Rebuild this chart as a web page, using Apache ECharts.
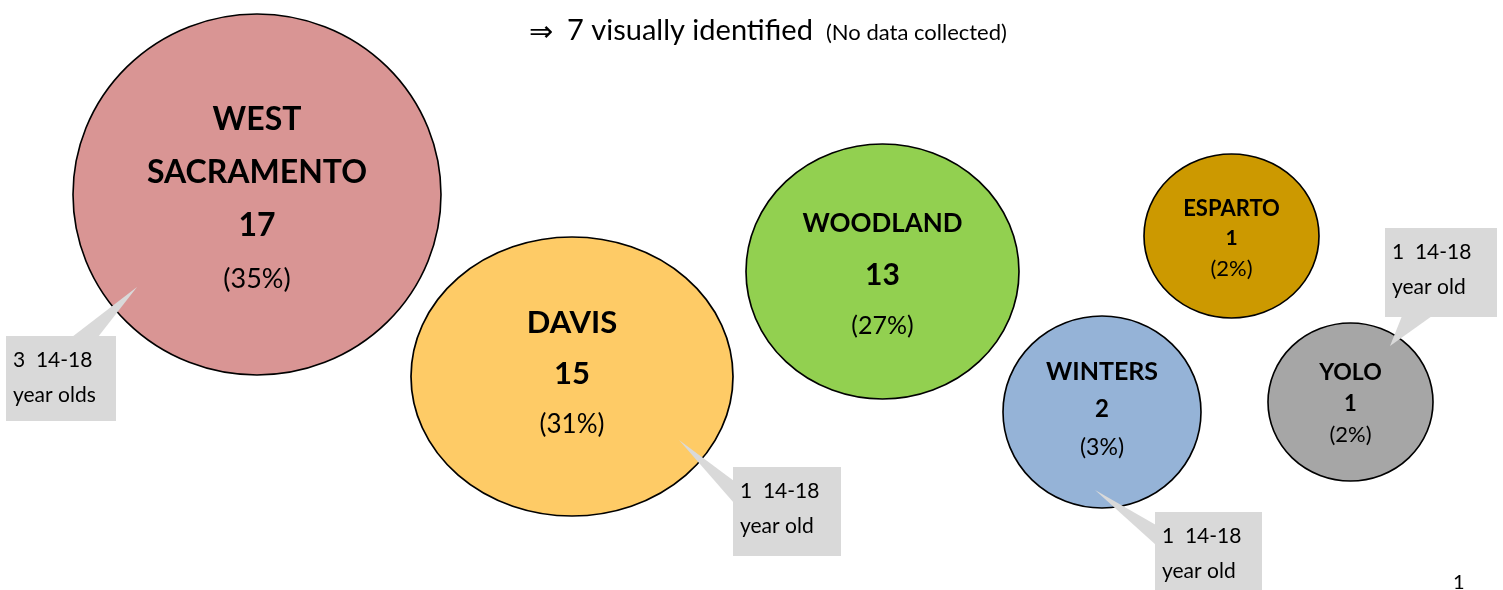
<!DOCTYPE html>
<html>
<head>
<meta charset="utf-8">
<script src="https://cdn.jsdelivr.net/npm/echarts@6/dist/echarts.min.js"></script>
<style>
html,body{margin:0;padding:0;background:#fff;}
#chart{width:1503px;height:590px;}
</style>
</head>
<body>
<div id="chart"></div>
<script>
// ---- data ----
const towns = ['WEST\nSACRAMENTO', 'DAVIS', 'WOODLAND', 'ESPARTO', 'WINTERS', 'YOLO'];
const counts = [17, 15, 13, 1, 2, 1];
const shares = [35, 31, 27, 2, 3, 2];
const calloutTowns = ['WEST\nSACRAMENTO', 'DAVIS', 'WINTERS', 'YOLO'];
const youthCounts = [3, 1, 1, 1];
const titleArrow = '⇒';
const titleMain = '7 visually identified';
const titleNote = '(No data collected)';
const pageNumber = '1';

// ---- layout (positions / sizes / styles) ----
const bubbleX = [257, 572, 882.5, 1231.5, 1102, 1350.5];
const bubbleY = [194.5, 376.5, 271.5, 236, 412, 402];
const bubbleW = [368, 322, 273, 175, 198, 165];
const bubbleH = [361, 279, 255, 164, 192, 158];
const bubbleColors = ['#D99594', '#FECB66', '#92D050', '#CC9900', '#95B3D7', '#A6A6A6'];
// font sizes: name, count, percent, lineHeight
const labelSizes = [
  [32, 32, 27, 53],
  [31, 31, 26, 51],
  [26, 30, 25, 51],
  [22, 21, 22, 30],
  [25, 24, 23, 38],
  [23, 22, 22, 31]
];
const labelShiftY = [5, -2.5, 3.5, 2.5, -2.5, 1.5];
// callout box: x, y, w, h ; pointer tip ; pointer base two points
const calloutBox = [
  [6, 336, 110, 85],
  [733, 467, 108, 89],
  [1155, 512, 107, 90],
  [1385, 228, 112, 89]
];
const calloutPointer = [
  [[137, 287], [72, 337], [98, 337]],
  [[679, 440], [734, 481], [734, 503]],
  [[1095, 490], [1156, 525], [1156, 545]],
  [[1390, 346], [1402, 316], [1432, 316]]
];

const FONT = 'Lato, "Noto Sans", sans-serif';

const bubbleData = towns.map((t, i) => {
  const s = labelSizes[i];
  const nameParts = t.split('\n').map(p => '{n|' + p + '}').join('\n');
  return {
    name: t,
    value: [bubbleX[i], bubbleY[i], counts[i], shares[i]],
    symbolSize: [bubbleW[i], bubbleH[i]],
    itemStyle: { color: bubbleColors[i] },
    label: {
      show: true,
      position: 'inside',
      offset: [0, labelShiftY[i]],
      align: 'center',
      verticalAlign: 'middle',
      formatter: nameParts + '\n{c|' + counts[i] + '}\n{p|(' + shares[i] + '%)}',
      rich: {
        n: { fontFamily: FONT, fontWeight: 'bold', fontSize: s[0], lineHeight: s[3], color: '#000' },
        c: { fontFamily: FONT, fontWeight: 'bold', fontSize: s[1], lineHeight: s[3], color: '#000' },
        p: { fontFamily: FONT, fontWeight: 'normal', fontSize: s[2], lineHeight: s[3], color: '#000' }
      }
    }
  };
});

const calloutData = calloutTowns.map((t, i) => ({
  name: t,
  value: [i, youthCounts[i]]
}));

const chart = echarts.init(document.getElementById('chart'), null, { renderer: 'canvas' });
chart.setOption({
  animation: false,
  backgroundColor: '#fff',
  grid: { left: 0, right: 0, top: 0, bottom: 0 },
  xAxis: { type: 'value', min: 0, max: 1503, show: false },
  yAxis: { type: 'value', min: 0, max: 590, inverse: true, show: false },
  graphic: [
    {
      type: 'text', x: 529, y: 33,
      style: { text: titleArrow, fontFamily: '"DejaVu Sans", sans-serif', fontSize: 29, fill: '#000', verticalAlign: 'middle' }
    },
    {
      type: 'text', x: 567, y: 31,
      style: { text: titleMain, fontFamily: FONT, fontSize: 29, fill: '#000', verticalAlign: 'middle' }
    },
    {
      type: 'text', x: 826, y: 33,
      style: { text: titleNote, fontFamily: FONT, fontSize: 22, fill: '#000', verticalAlign: 'middle' }
    },
    {
      type: 'text', x: 1453, y: 583,
      style: { text: pageNumber, fontFamily: FONT, fontSize: 20, fill: '#000', verticalAlign: 'middle' }
    }
  ],
  series: [
    {
      type: 'scatter',
      symbol: 'circle',
      data: bubbleData,
      itemStyle: { borderColor: '#000', borderWidth: 1.6, opacity: 1 },
      z: 2,
      emphasis: { disabled: true }
    },
    {
      type: 'custom',
      z: 5,
      data: calloutData,
      renderItem: function (params, api) {
        const i = api.value(0);
        const n = api.value(1);
        const b = calloutBox[i];
        const p0 = api.coord([b[0], b[1]]);
        const p1 = api.coord([b[0] + b[2], b[1] + b[3]]);
        const ptr = calloutPointer[i].map(pt => api.coord(pt));
        return {
          type: 'group',
          children: [
            { type: 'rect', shape: { x: p0[0], y: p0[1], width: p1[0] - p0[0], height: p1[1] - p0[1] },
              style: { fill: '#D9D9D9' } },
            { type: 'polygon', shape: { points: ptr }, style: { fill: '#D9D9D9' } },
            { type: 'text', x: p0[0] + 7, y: p0[1] + 6.5,
              style: {
                text: n + '  14-18\nyear old' + (n > 1 ? 's' : ''),
                fontFamily: FONT, fontSize: 21, lineHeight: 35,
                fill: '#000', verticalAlign: 'top', align: 'left'
              } }
          ]
        };
      }
    }
  ]
});
</script>
</body>
</html>
